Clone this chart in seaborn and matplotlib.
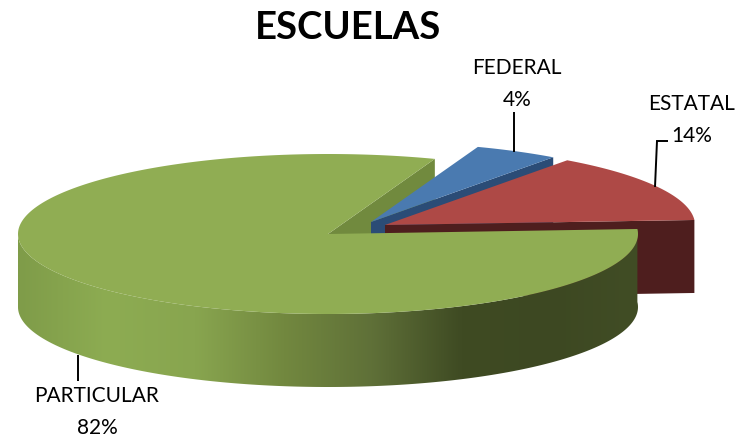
import numpy as np
import matplotlib
matplotlib.use("Agg")
import matplotlib.pyplot as plt
from matplotlib.patches import Polygon
import seaborn as sns

# Data
categories = ["ESTATAL", "FEDERAL", "PARTICULAR"]
values = [14.0, 4.4, 81.6]

# Styles
top_colors = ["#AE4946", "#4A7AB0", "#90AD53"]
wall_colors = ["#4E1E1E", "#2B4C76", "#718A3E"]
side_stops = ["#7F9C49", "#8DAC52", "#88A54F", "#72883F", "#5F7038", "#3F4B23", "#3D4822", "#414D25"]

sns.set_theme(style="white")
plt.rcParams["font.family"] = ["Lato", "DejaVu Sans"]

# Pie geometry in pixels
RX, RY, DEPTH = 310, 80, 73
START = 3.6
centers = [(385, 226), (371, 223), (328, 235)]


def arc(center, a0, a1, n=120):
    t = np.radians(np.linspace(a0, a1, n))
    return np.column_stack([center[0] + RX * np.cos(t), center[1] - RY * np.sin(t)])


def wall(center, point):
    c, p = np.array(center), np.array(point)
    return [c, p, p + [0, DEPTH], c + [0, DEPTH]]


fig = plt.figure(figsize=(7.48, 4.39), dpi=100)
ax = fig.add_axes([0, 0, 1, 1])

angles = START + np.cumsum([0] + values) * 3.6

# back wall of the big slice goes first, the small slices sit on it
ax.add_patch(Polygon(wall(centers[2], arc(centers[2], angles[2], angles[2], 1)[0]), fc=wall_colors[2], ec="none"))

for i in [1, 0]:
    c = centers[i]
    ax.add_patch(Polygon(wall(c, arc(c, angles[i], angles[i], 1)[0]), fc=wall_colors[i], ec="none"))
    ax.add_patch(Polygon(np.vstack([c, arc(c, angles[i], angles[i + 1])]), fc=top_colors[i], ec="none"))

# outer side of the big slice, shaded from left to right
c = centers[2]
rim = arc(c, 180, angles[3], 260)
side = Polygon(np.vstack([rim, rim[::-1] + [0, DEPTH]]), transform=ax.transData, fc="none", ec="none")
ax.add_patch(side)
shade = sns.blend_palette(side_stops, as_cmap=True)
img = ax.imshow(
    np.linspace(0, 1, 256)[None, :],
    cmap=shade,
    aspect="auto",
    extent=[c[0] - RX, c[0] + RX, c[1] + RY + DEPTH + 5, c[1] - 20],
    interpolation="bilinear",
    zorder=2,
)
img.set_clip_path(side)

ax.add_patch(Polygon(np.vstack([c, arc(c, angles[2], angles[3], 300)]), fc=top_colors[2], ec="none", zorder=3))

# Leader lines
ax.plot([514, 514], [113, 153], color="black", lw=1.4, solid_capstyle="butt", zorder=4)
ax.plot([655, 657, 668], [188, 142, 142], color="black", lw=1.4, solid_capstyle="butt", solid_joinstyle="miter", zorder=4)
ax.plot([78, 78], [356, 382], color="black", lw=1.4, solid_capstyle="butt", zorder=4)

# Labels
label_pos = [(692, 120), (517, 83.5), (97, 412.5)]
for name, val, (x, y) in zip(categories, values, label_pos):
    ax.text(x, y, f"{name}\n{val:.0f}%", ha="center", va="center", fontsize=15, linespacing=1.75, color="black")

ax.text(348, 28, "ESCUELAS", ha="center", va="center", fontsize=27.5, fontweight="bold", color="black")

ax.set_xlim(0, 748)
ax.set_ylim(439, 0)
ax.axis("off")

fig.savefig("out.png", dpi=100)
